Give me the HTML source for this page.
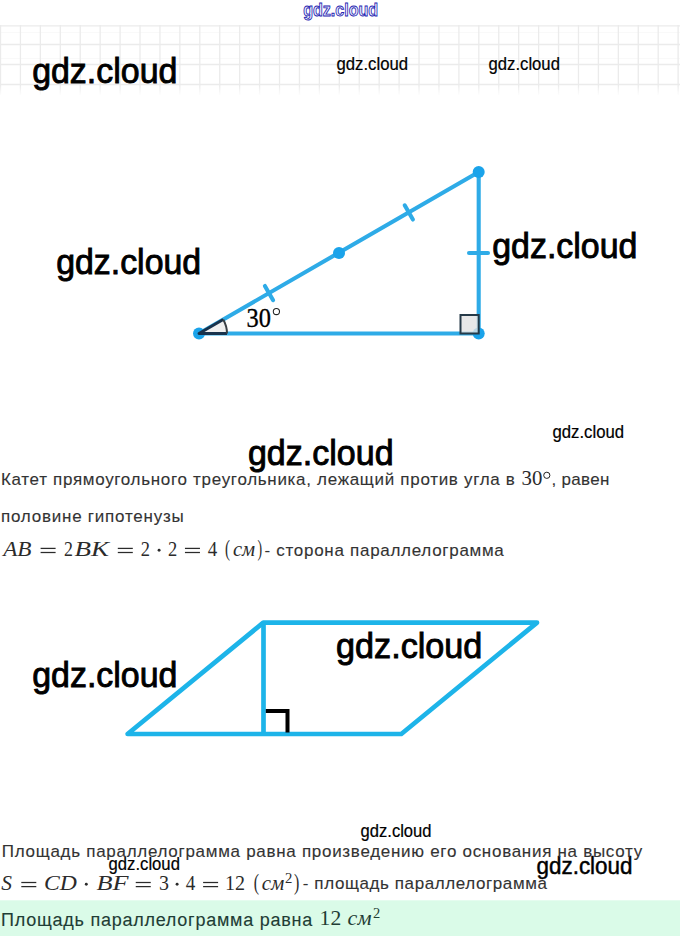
<!DOCTYPE html>
<html><head><meta charset="utf-8">
<style>
html,body{margin:0;padding:0;background:#fff;}
body{width:680px;height:936px;overflow:hidden;}
svg{display:block;}
</style></head><body>
<svg width="680" height="936" viewBox="0 0 680 936">
<defs><linearGradient id="gf" x1="0" y1="0" x2="0" y2="1"><stop offset="0" stop-color="#fff" stop-opacity="1"/><stop offset="0.85" stop-color="#fff" stop-opacity="1"/><stop offset="1" stop-color="#fff" stop-opacity="0"/></linearGradient>
<mask id="gm"><rect x="0" y="25" width="680" height="71" fill="url(#gf)"/></mask></defs>
<g mask="url(#gm)">
<g stroke="#f9f9f9" stroke-width="1"><line x1="0" y1="32.5" x2="680" y2="32.5" /><line x1="0" y1="58.5" x2="680" y2="58.5" /></g>
<g stroke="#ebebeb" stroke-width="1.3"><line x1="0.50" y1="25" x2="0.50" y2="95" /><line x1="20.43" y1="25" x2="20.43" y2="95" /><line x1="40.36" y1="25" x2="40.36" y2="95" /><line x1="60.29" y1="25" x2="60.29" y2="95" /><line x1="80.22" y1="25" x2="80.22" y2="95" /><line x1="100.15" y1="25" x2="100.15" y2="95" /><line x1="120.08" y1="25" x2="120.08" y2="95" /><line x1="140.01" y1="25" x2="140.01" y2="95" /><line x1="159.94" y1="25" x2="159.94" y2="95" /><line x1="179.87" y1="25" x2="179.87" y2="95" /><line x1="199.80" y1="25" x2="199.80" y2="95" /><line x1="219.73" y1="25" x2="219.73" y2="95" /><line x1="239.66" y1="25" x2="239.66" y2="95" /><line x1="259.59" y1="25" x2="259.59" y2="95" /><line x1="279.52" y1="25" x2="279.52" y2="95" /><line x1="299.45" y1="25" x2="299.45" y2="95" /><line x1="319.38" y1="25" x2="319.38" y2="95" /><line x1="339.31" y1="25" x2="339.31" y2="95" /><line x1="359.24" y1="25" x2="359.24" y2="95" /><line x1="379.17" y1="25" x2="379.17" y2="95" /><line x1="399.10" y1="25" x2="399.10" y2="95" /><line x1="419.03" y1="25" x2="419.03" y2="95" /><line x1="438.96" y1="25" x2="438.96" y2="95" /><line x1="458.89" y1="25" x2="458.89" y2="95" /><line x1="478.82" y1="25" x2="478.82" y2="95" /><line x1="498.75" y1="25" x2="498.75" y2="95" /><line x1="518.68" y1="25" x2="518.68" y2="95" /><line x1="538.61" y1="25" x2="538.61" y2="95" /><line x1="558.54" y1="25" x2="558.54" y2="95" /><line x1="578.47" y1="25" x2="578.47" y2="95" /><line x1="598.40" y1="25" x2="598.40" y2="95" /><line x1="618.33" y1="25" x2="618.33" y2="95" /><line x1="638.26" y1="25" x2="638.26" y2="95" /><line x1="658.19" y1="25" x2="658.19" y2="95" /><line x1="678.12" y1="25" x2="678.12" y2="95" /><line x1="0" y1="25.8" x2="680" y2="25.8" /><line x1="0" y1="44.5" x2="680" y2="44.5" /><line x1="0" y1="64.5" x2="680" y2="64.5" /><line x1="0" y1="84.5" x2="680" y2="84.5" /></g>
</g>
<text x="303.2" y="16" font-family="Liberation Sans" font-weight="bold" font-size="17.5" fill="#f0f0ff" stroke="#2424b0" stroke-width="0.85" textLength="75" lengthAdjust="spacingAndGlyphs">gdz.cloud</text>

<g stroke="#2eabe7" stroke-width="4.1" stroke-linecap="round" fill="none">
  <line x1="199" y1="333.5" x2="478.7" y2="172"/>
  <line x1="478.7" y1="172" x2="478.7" y2="333.5"/>
  <line x1="199" y1="333.5" x2="478.7" y2="333.5"/>
  <line x1="264.9" y1="286" x2="273.1" y2="300.2"/>
  <line x1="404.7" y1="205.3" x2="412.9" y2="219.5"/>
  <line x1="469" y1="253" x2="488" y2="253"/>
</g>
<g fill="#1aa3ea">
  <circle cx="199" cy="333.5" r="6"/>
  <circle cx="478.7" cy="172" r="6"/>
  <circle cx="478.7" cy="333.5" r="6"/>
  <circle cx="339" cy="253" r="6"/>
</g>
<rect x="460.5" y="315" width="18.2" height="18.5" fill="#e2e2e2" fill-opacity="0.8" stroke="#263a48" stroke-width="2"/>
<circle cx="276.4" cy="311.5" r="3.1" fill="none" stroke="#222" stroke-width="1.05"/>
<rect x="40.60" y="547.78" width="15" height="1.25" fill="#2b2b2b"/>
<rect x="40.60" y="551.88" width="15" height="1.25" fill="#2b2b2b"/>
<rect x="117.80" y="547.78" width="15" height="1.25" fill="#2b2b2b"/>
<rect x="117.80" y="551.88" width="15" height="1.25" fill="#2b2b2b"/>
<rect x="184.95" y="547.78" width="15" height="1.25" fill="#2b2b2b"/>
<rect x="184.95" y="551.88" width="15" height="1.25" fill="#2b2b2b"/>
<rect x="21.30" y="881.88" width="15" height="1.25" fill="#2b2b2b"/>
<rect x="21.30" y="885.98" width="15" height="1.25" fill="#2b2b2b"/>
<rect x="135.75" y="881.88" width="15" height="1.25" fill="#2b2b2b"/>
<rect x="135.75" y="885.98" width="15" height="1.25" fill="#2b2b2b"/>
<rect x="203.10" y="881.88" width="15" height="1.25" fill="#2b2b2b"/>
<rect x="203.10" y="885.98" width="15" height="1.25" fill="#2b2b2b"/>
<circle cx="159.1" cy="550.2" r="1.45" fill="#2b2b2b"/>
<circle cx="86.3" cy="884.3" r="1.45" fill="#2b2b2b"/>
<circle cx="177.1" cy="884.3" r="1.45" fill="#2b2b2b"/>
<circle cx="546.8" cy="475.3" r="3.1" fill="none" stroke="#222" stroke-width="1.0"/>
<path d="M199 333.5 L227 333.5 A28 28 0 0 0 223.2 319.5 Z" fill="#efefef" stroke="none"/>
<path d="M223.2 319.5 L199 333.5 L227 333.5" fill="none" stroke="#18324c" stroke-width="2.9" stroke-linejoin="round"/>
<path d="M227 333.5 A28 28 0 0 0 223.2 319.5" fill="none" stroke="#3a3f44" stroke-width="2"/>


<g stroke="#1db4e9" stroke-width="4.7" stroke-linejoin="round" fill="none">
  <path d="M127.6 734 L263.3 622.6 L537 622.6 L401.3 734 Z"/>
  <line x1="263.5" y1="622.6" x2="263.5" y2="734"/>
</g>
<path d="M265.8 711 L287.5 711 L287.5 732.5" fill="none" stroke="#000" stroke-width="4"/>

<rect x="0" y="900.3" width="680" height="37" fill="#dafbe8"/>
<text x="32.13" y="82.70" font-family="Liberation Sans" font-size="35" font-style="normal" font-weight="normal" fill="#000000" textLength="145.24" lengthAdjust="spacingAndGlyphs" stroke="#000" stroke-width="0.90">gdz.cloud</text>
<text x="336.50" y="69.90" font-family="Liberation Sans" font-size="17.5" font-style="normal" font-weight="normal" fill="#000000" textLength="71.53" lengthAdjust="spacingAndGlyphs" stroke="#000" stroke-width="0.20">gdz.cloud</text>
<text x="488.50" y="69.90" font-family="Liberation Sans" font-size="17.5" font-style="normal" font-weight="normal" fill="#000000" textLength="71.43" lengthAdjust="spacingAndGlyphs" stroke="#000" stroke-width="0.20">gdz.cloud</text>
<text x="56.13" y="274.10" font-family="Liberation Sans" font-size="35" font-style="normal" font-weight="normal" fill="#000000" textLength="145.04" lengthAdjust="spacingAndGlyphs" stroke="#000" stroke-width="0.90">gdz.cloud</text>
<text x="492.23" y="258.00" font-family="Liberation Sans" font-size="35" font-style="normal" font-weight="normal" fill="#000000" textLength="145.14" lengthAdjust="spacingAndGlyphs" stroke="#000" stroke-width="0.90">gdz.cloud</text>
<text x="552.50" y="437.80" font-family="Liberation Sans" font-size="17.5" font-style="normal" font-weight="normal" fill="#000000" textLength="71.53" lengthAdjust="spacingAndGlyphs" stroke="#000" stroke-width="0.20">gdz.cloud</text>
<text x="247.93" y="465.30" font-family="Liberation Sans" font-size="35" font-style="normal" font-weight="normal" fill="#000000" textLength="145.65" lengthAdjust="spacingAndGlyphs" stroke="#000" stroke-width="0.90">gdz.cloud</text>
<text x="32.23" y="686.50" font-family="Liberation Sans" font-size="35" font-style="normal" font-weight="normal" fill="#000000" textLength="145.14" lengthAdjust="spacingAndGlyphs" stroke="#000" stroke-width="0.90">gdz.cloud</text>
<text x="336.02" y="657.60" font-family="Liberation Sans" font-size="35" font-style="normal" font-weight="normal" fill="#000000" textLength="146.36" lengthAdjust="spacingAndGlyphs" stroke="#000" stroke-width="0.90">gdz.cloud</text>
<text x="360.60" y="837.40" font-family="Liberation Sans" font-size="17.5" font-style="normal" font-weight="normal" fill="#000000" textLength="70.93" lengthAdjust="spacingAndGlyphs" stroke="#000" stroke-width="0.20">gdz.cloud</text>
<text x="108.50" y="870.00" font-family="Liberation Sans" font-size="17.5" font-style="normal" font-weight="normal" fill="#000000" textLength="71.43" lengthAdjust="spacingAndGlyphs" stroke="#000" stroke-width="0.20">gdz.cloud</text>
<text x="536.50" y="874.10" font-family="Liberation Sans" font-size="23.3" font-style="normal" font-weight="normal" fill="#000000" textLength="96.01" lengthAdjust="spacingAndGlyphs" stroke="#000" stroke-width="0.45">gdz.cloud</text>
<text x="0.90" y="485.20" font-family="Liberation Sans" font-size="17" font-style="normal" font-weight="normal" fill="#333333" textLength="513.98" lengthAdjust="spacing" stroke="#333333" stroke-width="0.12">Катет прямоугольного треугольника, лежащий против угла в</text>
<text x="551.50" y="485.20" font-family="Liberation Sans" font-size="17" font-style="normal" font-weight="normal" fill="#333333" textLength="57.85" lengthAdjust="spacing" stroke="#333333" stroke-width="0.12">, равен</text>
<text x="1.00" y="522.00" font-family="Liberation Sans" font-size="17" font-style="normal" font-weight="normal" fill="#333333" textLength="182.69" lengthAdjust="spacing" stroke="#333333" stroke-width="0.12">половине гипотенузы</text>
<text x="264.50" y="556.00" font-family="Liberation Sans" font-size="17" font-style="normal" font-weight="normal" fill="#333333" textLength="239.32" lengthAdjust="spacing" stroke="#333333" stroke-width="0.12">- сторона параллелограмма</text>
<text x="1.80" y="856.70" font-family="Liberation Sans" font-size="17" font-style="normal" font-weight="normal" fill="#333333" textLength="640.45" lengthAdjust="spacing" stroke="#333333" stroke-width="0.12">Площадь параллелограмма равна произведению его основания на высоту</text>
<text x="302.80" y="889.00" font-family="Liberation Sans" font-size="17" font-style="normal" font-weight="normal" fill="#333333" textLength="244.11" lengthAdjust="spacing" stroke="#333333" stroke-width="0.12">- площадь параллелограмма</text>
<text x="1.10" y="925.60" font-family="Liberation Sans" font-size="18" font-style="normal" font-weight="normal" fill="#1f3d35" textLength="311.06" lengthAdjust="spacing" stroke="#1f3d35" stroke-width="0.12">Площадь параллелограмма равна</text>
<text x="246.50" y="326.70" font-family="Liberation Serif" font-size="27" font-style="normal" font-weight="normal" fill="#000" textLength="24.40" lengthAdjust="spacingAndGlyphs" stroke="#000" stroke-width="0.35">30</text>
<text x="521.50" y="485.30" font-family="Liberation Serif" font-size="21" font-style="normal" font-weight="normal" fill="#2b2b2b" textLength="20.80" lengthAdjust="spacingAndGlyphs" >30</text>
<text x="3.21" y="555.50" font-family="Liberation Serif" font-size="21" font-style="italic" font-weight="normal" fill="#2b2b2b" textLength="28.31" lengthAdjust="spacingAndGlyphs" >AB</text>
<text x="63.90" y="555.50" font-family="Liberation Serif" font-size="21" font-style="normal" font-weight="normal" fill="#2b2b2b" textLength="8.93" lengthAdjust="spacingAndGlyphs" >2</text>
<text x="74.40" y="555.50" font-family="Liberation Serif" font-size="21" font-style="italic" font-weight="normal" fill="#2b2b2b" textLength="34.51" lengthAdjust="spacingAndGlyphs" >BK</text>
<text x="140.70" y="555.50" font-family="Liberation Serif" font-size="21" font-style="normal" font-weight="normal" fill="#2b2b2b" textLength="9.24" lengthAdjust="spacingAndGlyphs" >2</text>
<text x="168.00" y="555.50" font-family="Liberation Serif" font-size="21" font-style="normal" font-weight="normal" fill="#2b2b2b" textLength="9.24" lengthAdjust="spacingAndGlyphs" >2</text>
<text x="207.80" y="555.50" font-family="Liberation Serif" font-size="21" font-style="normal" font-weight="normal" fill="#2b2b2b" textLength="9.45" lengthAdjust="spacingAndGlyphs" >4</text>
<text x="225.00" y="555.50" font-family="Liberation Serif" font-size="24" font-style="normal" font-weight="normal" fill="#2b2b2b" textLength="5.00" lengthAdjust="spacingAndGlyphs" >(</text>
<text x="233.00" y="555.50" font-family="Liberation Serif" font-size="21" font-style="italic" font-weight="normal" fill="#2b2b2b" textLength="22.14" lengthAdjust="spacingAndGlyphs" >см</text>
<text x="257.40" y="555.50" font-family="Liberation Serif" font-size="24" font-style="normal" font-weight="normal" fill="#2b2b2b" textLength="4.60" lengthAdjust="spacingAndGlyphs" >)</text>
<text x="1.20" y="889.60" font-family="Liberation Serif" font-size="21" font-style="italic" font-weight="normal" fill="#2b2b2b" textLength="10.69" lengthAdjust="spacingAndGlyphs" >S</text>
<text x="44.10" y="889.60" font-family="Liberation Serif" font-size="21" font-style="italic" font-weight="normal" fill="#2b2b2b" textLength="32.88" lengthAdjust="spacingAndGlyphs" >CD</text>
<text x="96.50" y="889.60" font-family="Liberation Serif" font-size="21" font-style="italic" font-weight="normal" fill="#2b2b2b" textLength="31.97" lengthAdjust="spacingAndGlyphs" >BF</text>
<text x="159.00" y="889.60" font-family="Liberation Serif" font-size="21" font-style="normal" font-weight="normal" fill="#2b2b2b" textLength="9.97" lengthAdjust="spacingAndGlyphs" >3</text>
<text x="185.70" y="889.60" font-family="Liberation Serif" font-size="21" font-style="normal" font-weight="normal" fill="#2b2b2b" textLength="9.55" lengthAdjust="spacingAndGlyphs" >4</text>
<text x="225.04" y="889.60" font-family="Liberation Serif" font-size="21" font-style="normal" font-weight="normal" fill="#2b2b2b" textLength="20.05" lengthAdjust="spacingAndGlyphs" >12</text>
<text x="253.70" y="889.60" font-family="Liberation Serif" font-size="24" font-style="normal" font-weight="normal" fill="#2b2b2b" textLength="5.30" lengthAdjust="spacingAndGlyphs" >(</text>
<text x="261.70" y="889.60" font-family="Liberation Serif" font-size="21" font-style="italic" font-weight="normal" fill="#2b2b2b" textLength="22.54" lengthAdjust="spacingAndGlyphs" >см</text>
<text x="285.00" y="883.00" font-family="Liberation Serif" font-size="14.5" font-style="normal" font-weight="normal" fill="#2b2b2b" textLength="7.35" lengthAdjust="spacingAndGlyphs" >2</text>
<text x="294.10" y="889.60" font-family="Liberation Serif" font-size="24" font-style="normal" font-weight="normal" fill="#2b2b2b" textLength="5.30" lengthAdjust="spacingAndGlyphs" >)</text>
<text x="319.57" y="925.30" font-family="Liberation Serif" font-size="21" font-style="normal" font-weight="normal" fill="#1f3d35" textLength="21.63" lengthAdjust="spacingAndGlyphs" >12</text>
<text x="347.60" y="925.30" font-family="Liberation Serif" font-size="21" font-style="italic" font-weight="normal" fill="#1f3d35" textLength="23.92" lengthAdjust="spacingAndGlyphs" >см</text>
<text x="373.00" y="917.60" font-family="Liberation Serif" font-size="14.5" font-style="normal" font-weight="normal" fill="#1f3d35" textLength="7.25" lengthAdjust="spacingAndGlyphs" >2</text>
</svg>
</body></html>
